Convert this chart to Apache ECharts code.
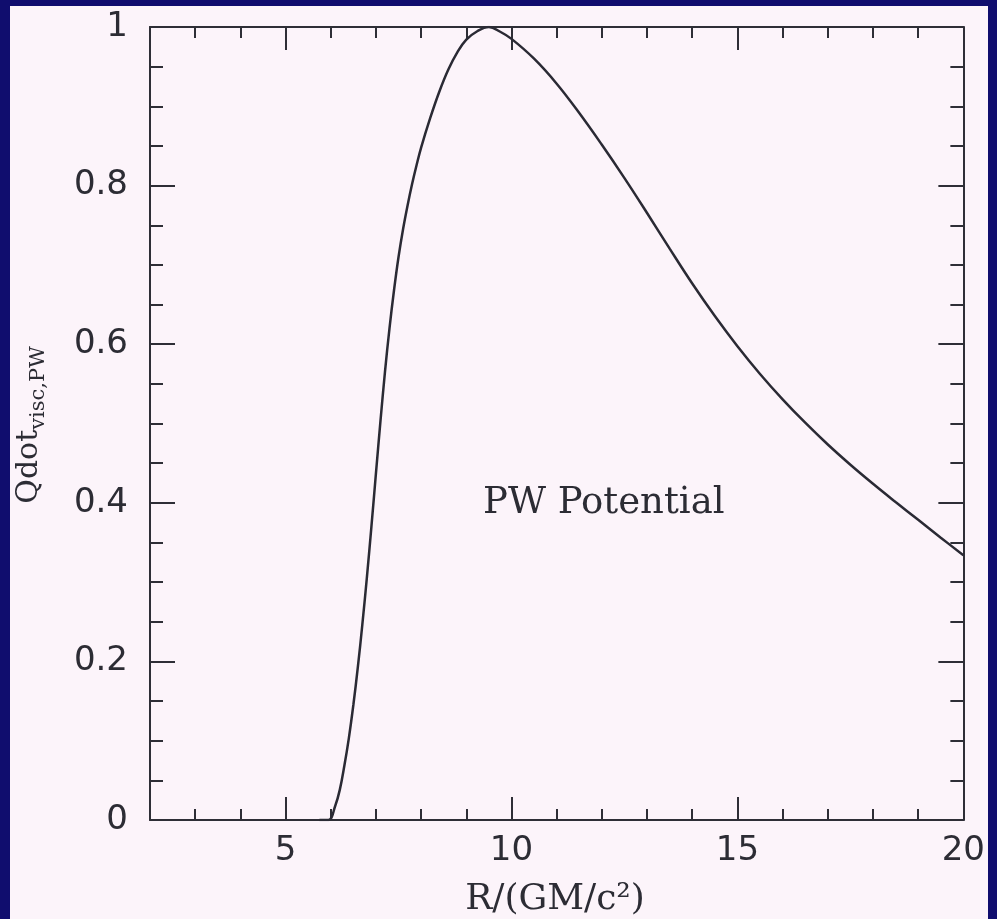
<!DOCTYPE html>
<html>
<head>
<meta charset="utf-8">
<title>Qdot visc, PW potential</title>
<script src="https://cdn.jsdelivr.net/npm/echarts@6/dist/echarts.min.js"></script>
<style>
  html, body { margin: 0; padding: 0; width: 997px; height: 919px; background: #100d6e; overflow: hidden; }
  #chart { position: absolute; left: 10px; top: 6px; width: 978px; height: 913px; background: #fcf4fa; }
</style>
</head>
<body>
<div id="chart"></div>
<script>
// Radius in units of GM/c^2
const radius = [5.75, 5.95, 6.1, 6.2, 6.3, 6.4, 6.5, 6.6, 6.7, 6.8, 6.9, 7.0, 7.1, 7.2, 7.3, 7.4,
  7.5, 7.6, 7.7, 7.8, 7.9, 8.0, 8.2, 8.4, 8.6, 8.8, 9.0, 9.25, 9.5, 9.75, 10.0, 10.5,
  11.0, 11.5, 12.0, 12.5, 13.0, 13.5, 14.0, 14.5, 15.0, 15.5, 16.0, 16.5, 17.0, 17.5,
  18.0, 18.5, 19.0, 19.5, 20.0];
// Normalised viscous heating rate in the Paczynski-Wiita potential
const qdotVisc = [0, 0, 0.018, 0.038, 0.068, 0.103, 0.145, 0.193, 0.247, 0.306, 0.370, 0.437, 0.503, 0.565, 0.620, 0.668,
  0.710, 0.745, 0.775, 0.802, 0.826, 0.848, 0.885, 0.918, 0.946, 0.968, 0.984, 0.995, 1.0, 0.994, 0.985, 0.960,
  0.9285, 0.8915, 0.8515, 0.8095, 0.7655, 0.7205, 0.6765, 0.6355, 0.5975, 0.5625, 0.5305, 0.501, 0.4735, 0.448,
  0.424, 0.401, 0.3785, 0.356, 0.334];

const xMajorTicks = [5, 10, 15, 20];
const xRange = [2, 20];
const yRange = [0, 1];

const axisColor = '#2e2e36';
const textColor = '#2c2c34';

const points = radius.map((r, i) => [r, qdotVisc[i]]);

function xAxisDef(position, major, showLine, showLabels) {
  return {
    type: 'value',
    position: position,
    min: xRange[0],
    max: xRange[1],
    interval: 1,
    axisLine: { show: showLine, onZero: false, lineStyle: { color: axisColor, width: 2 } },
    axisTick: major
      ? { show: true, inside: true, length: 23, customValues: xMajorTicks, lineStyle: { color: axisColor, width: 2 } }
      : { show: true, inside: true, length: 11, lineStyle: { color: axisColor, width: 2 } },
    axisLabel: showLabels
      ? { show: true, customValues: xMajorTicks, margin: 14, color: textColor, fontFamily: 'DejaVu Sans', fontSize: 34 }
      : { show: false },
    splitLine: { show: false }
  };
}

function yAxisDef(position, showLabels) {
  return {
    type: 'value',
    position: position,
    min: yRange[0],
    max: yRange[1],
    interval: 0.2,
    axisLine: { show: true, onZero: false, lineStyle: { color: axisColor, width: 2 } },
    axisTick: { show: true, inside: true, length: 25, lineStyle: { color: axisColor, width: 2 } },
    minorTick: { show: true, splitNumber: 4, length: 13, lineStyle: { color: axisColor, width: 2 } },
    axisLabel: showLabels
      ? { show: true, margin: 22, color: textColor, fontFamily: 'DejaVu Sans', fontSize: 34 }
      : { show: false },
    splitLine: { show: false },
    minorSplitLine: { show: false }
  };
}

const chart = echarts.init(document.getElementById('chart'), null, { renderer: 'canvas' });

chart.setOption({
  animation: false,
  backgroundColor: '#fcf4fa',
  grid: { left: 140, top: 21, width: 817, height: 793, containLabel: false },
  xAxis: [
    xAxisDef('bottom', false, true, true),
    xAxisDef('bottom', true, false, false),
    xAxisDef('top', false, true, false),
    xAxisDef('top', true, false, false)
  ],
  yAxis: [
    yAxisDef('left', true),
    yAxisDef('right', false)
  ],
  series: [{
    type: 'line',
    xAxisIndex: 0,
    yAxisIndex: 0,
    data: points,
    showSymbol: false,
    smooth: 0.4,
    lineStyle: { color: '#2a2a34', width: 2.5 }
  }],
  graphic: [
    {
      type: 'text',
      left: 473,
      top: 479,
      style: { text: 'PW Potential', fill: textColor, font: '37px "DejaVu Serif"' }
    },
    {
      type: 'text',
      x: 545,
      y: 894,
      style: {
        text: 'R/(GM/c²)', fill: textColor, font: '36px "DejaVu Serif"',
        align: 'center', verticalAlign: 'middle'
      }
    },
    {
      type: 'text',
      x: 19,
      y: 419,
      rotation: Math.PI / 2,
      style: {
        text: '{m|Qdot}{s|visc,PW}',
        align: 'center',
        verticalAlign: 'middle',
        fill: textColor,
        rich: {
          m: { fontFamily: 'DejaVu Serif', fontSize: 30, fill: textColor },
          s: { fontFamily: 'DejaVu Serif', fontSize: 21, fill: textColor, padding: [20, 0, 0, 0] }
        }
      }
    }
  ]
});
</script>
</body>
</html>
